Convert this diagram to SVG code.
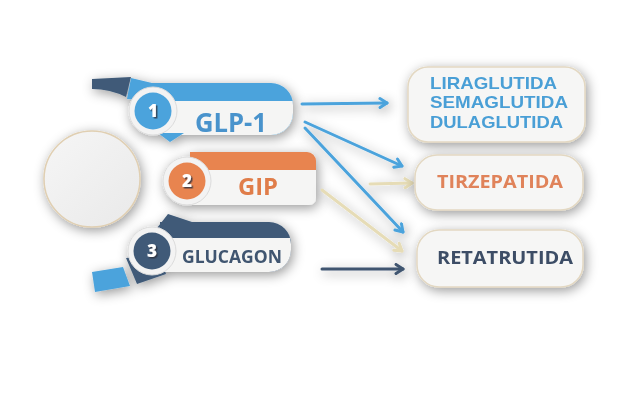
<svg xmlns="http://www.w3.org/2000/svg" width="629" height="420" viewBox="0 0 629 420">
<style>
  .t{font-family:"Open Sans","DejaVu Sans",sans-serif;font-weight:700}
  .t2{font-family:"Liberation Sans","Open Sans",sans-serif;font-weight:700}
  .num{font-family:"Open Sans","DejaVu Sans",sans-serif;font-weight:800;font-size:17px;fill:#ffffff;text-anchor:middle}
  .box{fill:#f6f6f5;stroke:#e3d8c2;stroke-width:1.5}
  .ring{fill:#f3f3f3;stroke:#dcdcdc;stroke-width:1}
  .c-blue{fill:#4ba3dc}
  .c-or{fill:#e8844f}
  .c-dk{fill:#3f5a78}
  .white{fill:#f5f5f4}
  .a{fill:none;stroke-width:3;stroke-linecap:round}
</style>
<defs>
  <filter id="sh" x="-40%" y="-40%" width="180%" height="180%">
    <feDropShadow dx="2" dy="3" stdDeviation="6" flood-color="#000" flood-opacity="0.4"/>
  </filter>
  <filter id="shs" x="-40%" y="-40%" width="180%" height="180%">
    <feDropShadow dx="1.5" dy="1.5" stdDeviation="0.6" flood-color="#2a3340" flood-opacity="0.8"/>
  </filter>
  <linearGradient id="cg" x1="0" y1="0" x2="1" y2="1">
    <stop offset="0" stop-color="#f6f6f6"/>
    <stop offset="1" stop-color="#e9e9e9"/>
  </linearGradient>
  <marker id="mb" viewBox="0 0 12 12" markerWidth="12" markerHeight="12" refX="10" refY="6" orient="auto" markerUnits="userSpaceOnUse">
    <path d="M3,1.5 L10,6 L3,10.5" fill="none" stroke="#4ba3dc" stroke-width="3" stroke-linecap="round" stroke-linejoin="round"/>
  </marker>
  <marker id="mc" viewBox="0 0 12 12" markerWidth="12" markerHeight="12" refX="10" refY="6" orient="auto" markerUnits="userSpaceOnUse">
    <path d="M3,1.5 L10,6 L3,10.5" fill="none" stroke="#e6dcb6" stroke-width="3" stroke-linecap="round" stroke-linejoin="round"/>
  </marker>
  <marker id="md" viewBox="0 0 12 12" markerWidth="12" markerHeight="12" refX="10" refY="6" orient="auto" markerUnits="userSpaceOnUse">
    <path d="M3,1.5 L10,6 L3,10.5" fill="none" stroke="#3f5570" stroke-width="3" stroke-linecap="round" stroke-linejoin="round"/>
  </marker>
</defs>
<rect width="629" height="420" fill="#ffffff"/>

<g id="center-circle" filter="url(#sh)">
  <circle cx="92" cy="179" r="48" fill="url(#cg)" stroke="#e0cfb2" stroke-width="1.5"/>
</g>

<g id="node-glp1" filter="url(#sh)">
  <path class="c-dk" d="M92,79 L131,77 L126,97 Q110,89 92,89 Z"/>
  <path class="c-blue" d="M131,78 L152,83 L152,101 L127,99 Z"/>
  <path class="c-blue" d="M150,83 H271 A22,22 0 0 1 293,105 V113 A22,22 0 0 1 271,135 H150 Z"/>
  <path class="white" d="M150,101 H292.6 L293,105 V113 A22,22 0 0 1 271,135 H150 Z"/>
  <path class="c-blue" d="M158,133 L184,133 L170,142 Z"/>
  <circle class="ring" cx="153" cy="111" r="24"/>
  <circle class="c-blue" cx="153" cy="111" r="18.5"/>
  <text class="num" x="153" y="117" filter="url(#shs)">1</text>
  <text class="t" x="195" y="132" font-size="26" fill="#4a93cc" textLength="72" lengthAdjust="spacingAndGlyphs">GLP-1</text>
</g>

<g id="node-gip" filter="url(#sh)">
  <path class="c-or" d="M190,152 H307 A9,9 0 0 1 316,161 V171 H190 Z"/>
  <path class="white" d="M190,170 H316 V198 A7,7 0 0 1 309,205 H190 Z"/>
  <circle class="ring" cx="187" cy="181" r="24"/>
  <circle class="c-or" cx="187" cy="181" r="18.5"/>
  <text class="num" x="187" y="187" filter="url(#shs)">2</text>
  <text class="t" x="238" y="195" font-size="24" fill="#e07d4a" textLength="40" lengthAdjust="spacingAndGlyphs">GIP</text>
</g>

<g id="node-glucagon" filter="url(#sh)">
  <path class="c-blue" d="M92,272 L123,267 L130,286 L95,292 Z"/>
  <path class="c-dk" d="M126,258 L137,284 L166,274 L160,254 Z"/>
  <path class="c-dk" d="M157,228 L168,214 L192,222 Z"/>
  <path class="c-dk" d="M160,222 H269 A22,22 0 0 1 291,244 V250 A22,22 0 0 1 269,272 H160 Z"/>
  <path class="white" d="M160,238 H290 L291,244 V250 A22,22 0 0 1 269,272 H160 Z"/>
  <circle class="ring" cx="152" cy="251" r="24"/>
  <circle class="c-dk" cx="152" cy="251" r="18.5"/>
  <text class="num" x="152" y="257" filter="url(#shs)">3</text>
  <text class="t" x="182" y="263" font-size="18" fill="#3f5570" textLength="100" lengthAdjust="spacingAndGlyphs">GLUCAGON</text>
</g>

<g id="connectors" filter="url(#sh)">
  <line class="a" x1="302" y1="104" x2="387" y2="103" stroke="#4ba3dc" marker-end="url(#mb)"/>
  <line class="a" x1="305" y1="122" x2="402" y2="166" stroke="#4ba3dc" marker-end="url(#mb)"/>
  <line class="a" x1="305" y1="128" x2="403" y2="232" stroke="#4ba3dc" marker-end="url(#mb)"/>
  <line class="a" x1="370" y1="184" x2="412" y2="183" stroke="#e6dcb6" marker-end="url(#mc)"/>
  <line class="a" x1="322" y1="190" x2="402" y2="251" stroke="#e6dcb6" marker-end="url(#mc)"/>
  <line class="a" x1="322" y1="269" x2="403" y2="269" stroke="#3f5570" marker-end="url(#md)"/>
</g>

<g id="box-glp1-drugs" filter="url(#sh)">
  <rect class="box" x="408" y="67" width="177" height="75" rx="20"/>
  <text class="t2" x="430" y="88.5" font-size="17" fill="#4a9fd6" textLength="127" lengthAdjust="spacingAndGlyphs">LIRAGLUTIDA</text>
  <text class="t2" x="430" y="108" font-size="17" fill="#4a9fd6" textLength="138" lengthAdjust="spacingAndGlyphs">SEMAGLUTIDA</text>
  <text class="t2" x="430" y="127.5" font-size="17" fill="#4a9fd6" textLength="133" lengthAdjust="spacingAndGlyphs">DULAGLUTIDA</text>
</g>

<g id="box-tirzepatida" filter="url(#sh)">
  <rect class="box" x="415" y="155" width="168" height="55" rx="22"/>
  <text class="t" x="437" y="188" font-size="18" fill="#e0835a" textLength="126" lengthAdjust="spacingAndGlyphs">TIRZEPATIDA</text>
</g>

<g id="box-retatrutida" filter="url(#sh)">
  <rect class="box" x="417" y="230" width="166" height="57" rx="22"/>
  <text class="t" x="437" y="264" font-size="18" fill="#3c4e66" textLength="136" lengthAdjust="spacingAndGlyphs">RETATRUTIDA</text>
</g>
</svg>
